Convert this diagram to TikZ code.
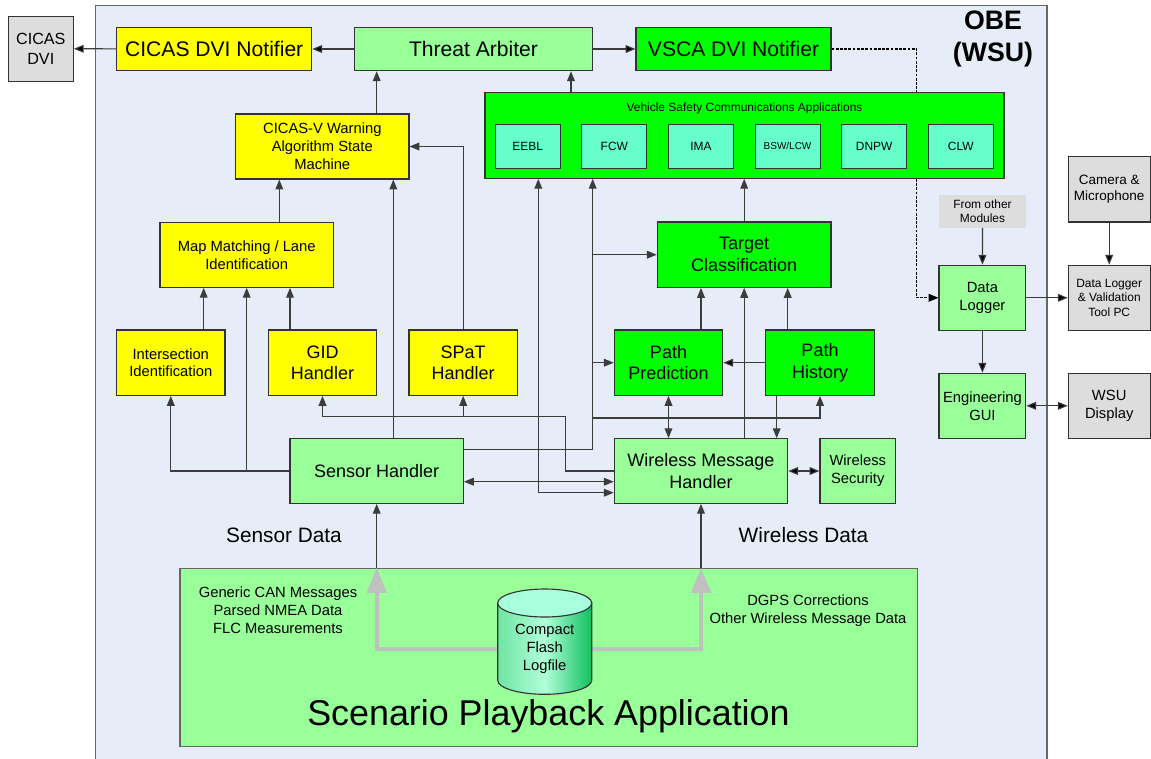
\documentclass[tikz,border=0pt]{standalone}
\usepackage{fontspec}
\setmainfont{Liberation Sans}
\usepackage{tikz}
\usetikzlibrary{arrows.meta}
\usetikzlibrary{backgrounds}
\definecolor{obebg}{RGB}{230,237,248}
\definecolor{ylw}{RGB}{255,255,0}
\definecolor{ltgreen}{RGB}{153,255,153}
\definecolor{brgreen}{RGB}{0,255,0}
\definecolor{aqua}{RGB}{102,255,204}
\definecolor{extgray}{RGB}{221,221,221}
\definecolor{lnclr}{RGB}{60,60,60}
\definecolor{feedclr}{RGB}{192,192,192}
\definecolor{cylside}{RGB}{112,228,164}
\definecolor{cyllite}{RGB}{176,255,216}
\definecolor{cyldark}{RGB}{16,192,96}
\definecolor{cyltop}{RGB}{168,255,221}
\tikzset{wh/.style 2 args={minimum width=#1*0.025cm,minimum height=#2*0.025cm}}
\tikzstyle{blk}=[rectangle,draw=black!80,line width=0.8pt,inner sep=2pt,align=center]
\tikzstyle{warn}=[blk,fill=ylw]
\tikzstyle{core}=[blk,fill=ltgreen]
\tikzstyle{vsc}=[blk,fill=brgreen]
\tikzstyle{ext}=[blk,fill=extgray]
\tikzstyle{fbig}=[font=\fontsize{15}{18}\selectfont]
\tikzstyle{fmid}=[font=\fontsize{12.8}{15.4}\selectfont]
\tikzstyle{fsmall}=[font=\fontsize{10.5}{12.7}\selectfont]
\tikzstyle{ftiny}=[font=\fontsize{8.5}{10.2}\selectfont]
\tikzstyle{app}=[blk,fill=aqua,wh={65}{44},ftiny]

\begin{document}
\begin{tikzpicture}
	[x=0.025cm,y=-0.025cm,>={Triangle[length=7pt,width=5.5pt]},]
	\tikzstyle{wire}=[->,draw=lnclr,line width=0.8pt];
	\tikzstyle{wire2}=[<->,draw=lnclr,line width=0.8pt];
	\tikzstyle{feed}=[-{Triangle[length=17.8pt,width=13.8pt]},draw=feedclr,line width=2.8pt];
	\useasboundingbox (0,0) rectangle (1151,758);
	% blocks outside and inside the OBE
	\node (cicasdvi) [ext,wh={65}{65},font=\fontsize{11.5}{13.8}\selectfont] at (40.8,48.7) {CICAS\\DVI};
	\node (cicasnot) [warn,fbig,wh={195}{43.4}] at (214.2,49) {CICAS DVI Notifier};
	\node (arbiter) [core,fbig,wh={238.4}{43.4}] at (473.5,49) {Threat Arbiter};
	\node (vscanot) [vsc,fbig,wh={195}{43.4}] at (733.5,49) {VSCA DVI Notifier};
	\node (obelbl) [font=\fontsize{19}{23}\selectfont\bfseries,align=center] at (993,39) {OBE\\(WSU)};
	\node (vsca) [vsc,wh={519}{86}] at (744.5,135.3) {};
	\node (vscatitle) [ftiny] at (744.5,108) {Vehicle Safety Communications Applications};
	\foreach \nm/\txt [count=\i from 0] in {eebl/EEBL,fcw/FCW,ima/IMA,bsw/{\fontsize{7.1}{8}\selectfont BSW/LCW},dnpw/DNPW,clw/CLW}
		\node (\nm) [app] at (527.7+86.62*\i,146.3) {\txt};
	\node (warnsm) [warn,fsmall,wh={173.3}{65}] at (322.3,146.5) {CICAS-V Warning\\Algorithm State\\Machine};
	\node (mapmatch) [warn,fsmall,wh={173.3}{65}] at (246.7,254.8) {Map Matching / Lane\\Identification};
	\node (isect) [warn,fsmall,wh={108.3}{65.3}] at (170.8,362.7) {Intersection\\Identification};
	\node (gid) [warn,fmid,wh={108.3}{65.3}] at (322.5,362.7) {GID\\Handler};
	\node (spat) [warn,fmid,wh={108.3}{65.3}] at (463.2,362.7) {SPaT\\Handler};
	\node (target) [vsc,fmid,wh={173.7}{65.3}] at (744.2,254.7) {Target\\Classification};
	\node (pathpred) [vsc,fmid,wh={108.4}{65.3}] at (668.5,362.7) {Path\\Prediction};
	\node (pathhist) [vsc,fmid,wh={108.6}{65.3}] at (820,362.7) {Path\\History};
	\node (sensor) [core,fmid,wh={173.3}{64.6}] at (376.7,471) {Sensor Handler};
	\node (wmh) [core,fmid,wh={173.4}{64.6}] at (701,471) {Wireless Message\\Handler};
	\node (wsec) [core,fsmall,wh={75.7}{64.6}] at (857.8,471) {Wireless\\Security};
	\node (others) [fill=extgray,ftiny,align=center,wh={87}{32.7}] at (982.5,211.3) {From other\\Modules};
	\node (logger) [core,fsmall,wh={86.7}{65}] at (982.4,297.8) {Data\\Logger};
	\node (enggui) [core,fsmall,wh={86.7}{65}] at (982.4,405.8) {Engineering\\GUI};
	\node (campc) [ext,wh={81.7}{65.3},font=\fontsize{9.6}{11.5}\selectfont] at (1109.2,189.3) {Camera \&\\Microphone};
	\node (dlpc) [ext,ftiny,wh={81.7}{65}] at (1109.2,297.8) {Data Logger\\\& Validation\\Tool PC};
	\node (wsudisp) [ext,fsmall,wh={81.7}{65}] at (1109.2,405.8) {WSU\\Display};
	\node (sensin) [font=\fontsize{14.8}{17}\selectfont] at (284,535) {Sensor Data};
	\node (wlsin) [font=\fontsize{14.8}{17}\selectfont] at (803.5,535) {Wireless Data};
	% playback application
	\node (scen) [core,draw=black!60,wh={737.8}{178.4}] at (548.9,657.5) {};
	\node (sensdat) [fsmall,align=center] at (278,610) {Generic CAN Messages\\Parsed NMEA Data\\FLC Measurements};
	\node (wlsdat) [fsmall,align=center] at (808,610.5) {DGPS Corrections\\Other Wireless Message Data};
	\node (scenlbl) [font=\fontsize{25.5}{30}\selectfont] at (548.5,716.7) {Scenario Playback Application};
	\coordinate (cylw) at (497.7,649);
	\coordinate (cyle) at (591.7,649);
	\draw[feed] (cylw) -| (scen.north -| sensor.south);
	\draw[feed] (cyle) -| (scen.north -| wmh.south);
	\shade[left color=cylside,right color=cyldark,middle color=cyllite,draw=black!80,line width=0.8pt]
		(497.7,603) -- (497.7,680.3) arc[start angle=180,end angle=0,x radius=47,y radius=14] -- (591.7,603) -- cycle;
	\draw[fill=cyltop,draw=black!80,line width=0.8pt] (544.7,603) ellipse [x radius=47,y radius=14];
	\node (cyl) [fsmall,align=center] at (544.7,649) {Compact\\Flash\\Logfile};
	% bends of the buses
	\coordinate (busl) at (565.7,416.7);
	\coordinate (trunk) at (592.7,449.3);
	\coordinate (busr) at (592.7,418);
	\coordinate (lowbus) at (538.3,492.7);
	\coordinate (dashbend) at (916.7,297.8);
	\begin{pgfonlayer}{background}
		\draw[fill=obebg,draw=black!60,line width=0.8pt] (95.7,5.7) rectangle (1047,790);
		\draw[wire,draw=black,dashed,dash pattern=on 2pt off 1pt] (vscanot.east) -| (dashbend) -- (logger.west);
	\end{pgfonlayer}
	\path[wire]
		(arbiter) edge (cicasnot)
		(cicasnot) edge (cicasdvi)
		(arbiter) edge (vscanot)
		(pathhist) edge (pathpred)
		(others) edge (logger)
		(logger) edge (dlpc)
		(campc) edge (dlpc)
		(logger) edge (enggui);
	\path[wire2]
		(wmh) edge (wsec)
		(enggui) edge (wsudisp);
	\draw[wire] (vsca.north -| 571,0) -- (arbiter.south -| 571,0);
	\draw[wire] (warnsm.north -| 376.7,0) -- (arbiter.south -| 376.7,0);
	\draw[wire] (spat.north) |- (warnsm.east);
	\draw[wire] (mapmatch.north -| 279.3,0) -- (warnsm.south -| 279.3,0);
	\draw[wire] (sensor.north -| 393.3,0) -- (warnsm.south -| 393.3,0);
	\draw[wire] (isect.north -| 203.7,0) -- (mapmatch.south -| 203.7,0);
	\draw[wire] (gid.north -| 290,0) -- (mapmatch.south -| 290,0);
	\draw[wire] (sensor.west) -| (isect.south);
	\draw[wire] (sensor.west -| mapmatch.south) -- (mapmatch.south);
	\draw[wire] (wmh.west) -| (busl) -| (gid.south);
	\draw[wire] (busl -| spat.south) -- (spat.south);
	\draw[wire] (sensor.east |- trunk) -- (trunk) -- (trunk |- vsca.south);
	\draw[wire] (trunk |- target.west) -- (target.west);
	\draw[wire] (trunk |- pathpred.west) -- (pathpred.west);
	\draw[wire] (busr) -| (pathhist.south);
	\draw[wire2] (vsca.south -| lowbus) |- (wmh.west |- lowbus);
	\draw[wire2] (sensor.east |- 0,481.7) -- (wmh.west |- 0,481.7);
	\draw[wire] (wmh.north -| target.south) -- (target.south);
	\draw[wire] (target.north) -- (target.north |- vsca.south);
	\draw[wire] (pathpred.north -| 701,0) -- (target.south -| 701,0);
	\draw[wire] (pathhist.north -| 787.7,0) -- (target.south -| 787.7,0);
	\draw[wire2] (pathpred.south) -- (pathpred.south |- wmh.north);
	\draw[wire] (pathhist.south -| 776.7,0) -- (wmh.north -| 776.7,0);
	\draw[wire] (scen.north -| sensor.south) -- (sensor.south);
	\draw[wire] (scen.north -| wmh.south) -- (wmh.south);
\end{tikzpicture}
\end{document}
